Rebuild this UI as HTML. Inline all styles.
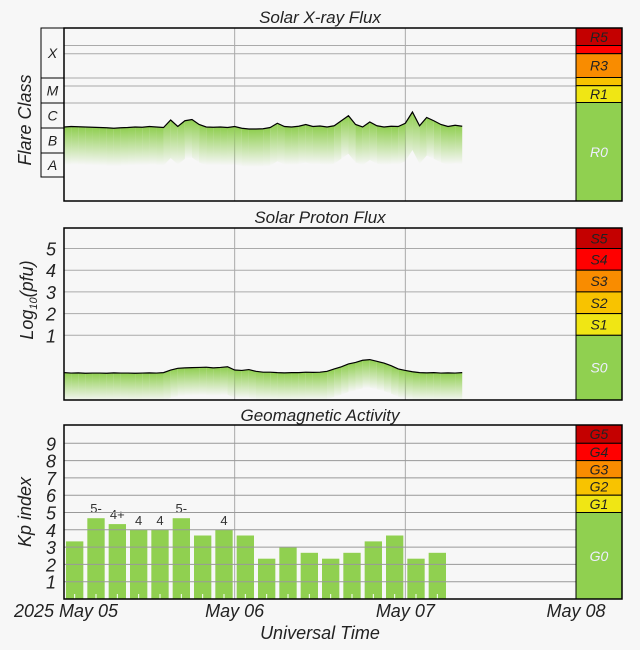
<!DOCTYPE html>
<html><head><meta charset="utf-8"><style>
body{margin:0;background:#f7f7f7;}
svg{display:block;font-family:"Liberation Sans",sans-serif;}
.t{font-style:italic;fill:#222;}
</style></head><body>
<svg width="640" height="650" viewBox="0 0 640 650">
<defs>
<linearGradient id="gf" x1="0" y1="0" x2="0" y2="1">
<stop offset="0" stop-color="#8fce4f" stop-opacity="1"/>
<stop offset="1" stop-color="#8fce4f" stop-opacity="0"/>
</linearGradient>
</defs>
<rect width="640" height="650" fill="#f7f7f7"/>
<g id="gtop"></g><g id="gmid"></g><g id="gbot"></g>
<g id="gaxes"></g>
</svg>
<script>
// ---- data ----
const xrayLog = [-6.0,-5.98,-5.99,-6.0,-6.01,-6.02,-6.03,-6.05,-6.03,-6.02,-6.0,-6.01,-5.98,-6.0,-6.02,-5.72,-5.98,-5.75,-5.7,-5.9,-6.0,-6.01,-6.0,-6.02,
-5.98,-6.05,-6.08,-6.08,-6.07,-6.02,-5.85,-5.98,-6.0,-5.97,-5.9,-5.98,-5.96,-6.0,-5.95,-5.75,-5.55,-5.9,-6.0,-5.8,-5.95,-6.0,-5.97,-5.98,
-5.85,-5.4,-5.95,-5.62,-5.75,-5.9,-5.98,-5.93,-5.97];
const protonLog = [-0.72,-0.74,-0.73,-0.75,-0.74,-0.74,-0.75,-0.73,-0.74,-0.74,-0.75,-0.74,-0.73,-0.74,-0.72,
-0.6,-0.52,-0.5,-0.49,-0.48,-0.47,-0.5,-0.48,-0.45,
-0.6,-0.62,-0.58,-0.66,-0.7,-0.7,-0.72,-0.73,-0.72,-0.72,-0.7,-0.71,-0.7,-0.66,
-0.55,-0.45,-0.32,-0.25,-0.15,-0.12,-0.2,-0.28,-0.4,-0.55,
-0.62,-0.68,-0.72,-0.73,-0.72,-0.74,-0.73,-0.74,-0.72];
const kpValues = [3.33,4.67,4.33,4,4,4.67,3.67,4,3.67,2.33,3,2.67,2.33,2.67,3.33,3.67,2.33,2.67];
const kpLabels = ["","5-","4+","4","4","5-","","4","","","","","","","","","",""];
const kpTicks = [1,2,3,4,5,6,7,8,9];
const protonTicks = [1,2,3,4,5];
const dayLabels = ["2025 May 05","May 06","May 07","May 08"];

const NS="http://www.w3.org/2000/svg";
function el(tag,attrs,parent,text){const e=document.createElementNS(NS,tag);for(const k in attrs)e.setAttribute(k,attrs[k]);if(text!==undefined)e.textContent=text;parent.appendChild(e);return e;}
const X0=64,X1=576,XR=622,DAY=(576-64)/3;
const xh=h=>X0+h*DAY/24;
const yX=v=>177-(v+8)*25;
const yP=v=>357-21.7*v;
const yK=v=>599-17.3*v;
const gTop=document.getElementById('gtop'),gMid=document.getElementById('gmid'),gBot=document.getElementById('gbot'),gAxes=document.getElementById('gaxes');

function frame(g,y0,y1){
  el('rect',{x:X0,y:y0,width:XR-X0,height:y1-y0,fill:'#f7f7f7'},g);
  for(let d=1;d<3;d++){const l=el('line',{x1:X0+d*DAY,x2:X0+d*DAY,y1:y0,y2:y1,stroke:'#aaa','stroke-width':1},g);
  
  }
}
function strip(g,bands){
  bands.forEach(b=>{const r=el('rect',{x:X1,y:b[0],width:XR-X1,height:b[1]-b[0],fill:b[2],stroke:'#000','stroke-width':1},g);
  
  
  if(b[3]){const t=el('text',{x:(X1+XR)/2,y:(b[0]+b[1])/2+5,'text-anchor':'middle','font-size':14,'font-style':'italic',fill:b[4]||'#222'},g,b[3]);
  
  }});
}
function series(g,vals,yf,depth,name){
  const pts=vals.map((v,i)=>[xh(i),yf(v)]);
  for(let i=0;i<pts.length-1;i++){
    const a=pts[i],b=pts[i+1];
    const p=el('polygon',{points:`${a[0]},${a[1]} ${b[0]},${b[1]} ${b[0]},${b[1]+depth} ${a[0]},${a[1]+depth}`,fill:'url(#gf)'},g);
    
    
  }
  const l=el('polyline',{points:pts.map(p=>p.join(',')).join(' '),fill:'none',stroke:'#000','stroke-width':1.2},g);
  
  
}
// ---- top panel ----
frame(gTop,28,201);
[45.5,53.7,78,86,103].forEach(y=>{const l=el('line',{x1:X0,x2:X1,y1:y,y2:y,stroke:'#aaa'},gTop);

});
series(gTop,xrayLog,yX,38,'xray-flux');
strip(gTop,[[28,45.5,'#c40000','R5'],[45.5,53.7,'#ff0000'],[53.7,77.5,'#f98c00','R3'],[77.5,85.7,'#f8c300'],[85.7,102.5,'#f0e614','R1'],[102.5,201,'#90d050','R0','#eef']]);
[['X',28,78],['M',78,103],['C',103,128],['B',128,153],['A',153,177]].forEach(c=>{
  const r=el('rect',{x:41,y:c[1],width:23,height:c[2]-c[1],fill:'#f7f7f7',stroke:'#000'},gTop);
  
  
  const t=el('text',{x:52.5,y:(c[1]+c[2])/2+5,'text-anchor':'middle','font-size':14,class:'t'},gTop,c[0]);
  
  
});
// ---- middle panel ----
frame(gMid,228,400);
protonTicks.forEach(v=>{const l=el('line',{x1:X0,x2:X1,y1:yP(v),y2:yP(v),stroke:'#aaa'},gMid);


const t=el('text',{x:56,y:yP(v)+7,'text-anchor':'end','font-size':18,class:'t'},gMid,String(v));

});
series(gMid,protonLog,yP,28,'proton-flux');
strip(gMid,[[228,yP(5),'#c40000','S5'],[yP(5),yP(4),'#ff0000','S4'],[yP(4),yP(3),'#f98c00','S3'],[yP(3),yP(2),'#f8c300','S2'],[yP(2),yP(1),'#f0e614','S1'],[yP(1),400,'#90d050','S0','#eef']]);
// ---- bottom panel ----
frame(gBot,425,599);
const slot=DAY/8;
kpValues.forEach((v,i)=>{
  const x=X0+i*slot+2,w=slot-4;
  const r=el('rect',{x:x,y:yK(v),width:w,height:599-yK(v),fill:'#90d050'},gBot);
  
  
  el('line',{x1:x+w/2,x2:x+w/2,y1:594,y2:599,stroke:'#fff'},gBot);
  if(kpLabels[i]){const t=el('text',{x:x+w/2,y:yK(v)-5,'text-anchor':'middle','font-size':13,fill:'#333'},gBot,kpLabels[i]);
  
  }
});
kpTicks.forEach(v=>{const l=el('line',{x1:X0,x2:X1,y1:yK(v),y2:yK(v),stroke:'#999'},gBot);


const t=el('text',{x:56,y:yK(v)+7,'text-anchor':'end','font-size':18,class:'t'},gBot,String(v));

});
strip(gBot,[[425,yK(9),'#c40000','G5'],[yK(9),yK(8),'#ff0000','G4'],[yK(8),yK(7),'#f98c00','G3'],[yK(7),yK(6),'#f8c300','G2'],[yK(6),yK(5),'#f0e614','G1'],[yK(5),599,'#90d050','G0','#eef']]);
// frames on top
[[28,201],[228,400],[425,599]].forEach(f=>{const r=el('rect',{x:X0,y:f[0],width:XR-X0,height:f[1]-f[0],fill:'none',stroke:'#000','stroke-width':1.5},gAxes);

});
// titles
[['Solar X-ray Flux',23],['Solar Proton Flux',223],['Geomagnetic Activity',421]].forEach(t=>{
  const e=el('text',{x:320,y:t[1],'text-anchor':'middle','font-size':17,class:'t'},gAxes,t[0]);
  
  
});
let e=el('text',{x:0,y:0,'font-size':18,class:'t','text-anchor':'middle',transform:'translate(31,120) rotate(-90)'},gAxes,'Flare Class');


e=el('text',{x:0,y:0,'font-size':18,class:'t','text-anchor':'middle',transform:'translate(33,300) rotate(-90)'},gAxes);


el('tspan',{},e,'Log');
el('tspan',{'font-size':11,dy:4},e,'10');
el('tspan',{dy:-4},e,'(pfu)');
e=el('text',{x:0,y:0,'font-size':18,class:'t','text-anchor':'middle',transform:'translate(31,512) rotate(-90)'},gAxes,'Kp index');


dayLabels.forEach((d,i)=>{
  const x=i==0?66:X0+i*DAY;
  const t=el('text',{x:x,y:617,'text-anchor':'middle','font-size':18,class:'t'},gAxes,d);
  
  
});
e=el('text',{x:320,y:639,'text-anchor':'middle','font-size':18,class:'t'},gAxes,'Universal Time');


</script>
</body></html>
